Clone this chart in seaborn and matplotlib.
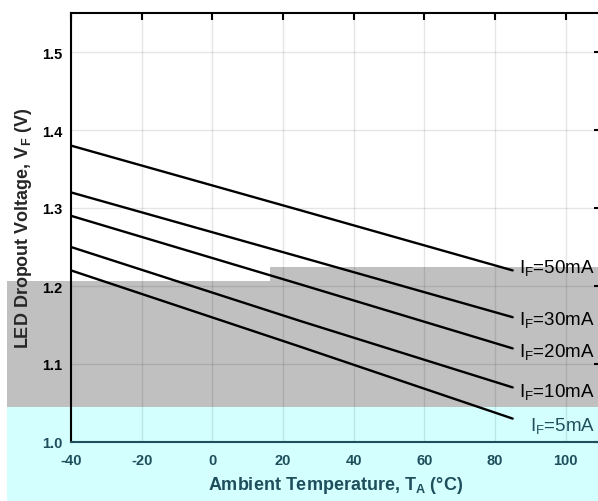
import numpy as np
import pandas as pd
import matplotlib
matplotlib.use("Agg")
import matplotlib.pyplot as plt
from matplotlib.patches import Rectangle
import seaborn as sns

# ── data ──
temps = [-40, 25, 85]
vf_50ma = [1.38, 1.297, 1.22]
vf_30ma = [1.32, 1.237, 1.16]
vf_20ma = [1.29, 1.202, 1.12]
vf_10ma = [1.25, 1.155, 1.07]
vf_5ma = [1.22, 1.122, 1.03]
currents = ["50mA", "30mA", "20mA", "10mA", "5mA"]
label_x = [86.8, 86.8, 86.8, 86.8, 89.8]
label_y = [1.217, 1.151, 1.109, 1.058, 1.014]
x_ticks = [-40, -20, 0, 20, 40, 60, 80, 100]
y_ticks = [1.0, 1.1, 1.2, 1.3, 1.4, 1.5]

series = dict(zip(currents, [vf_50ma, vf_30ma, vf_20ma, vf_10ma, vf_5ma]))
df = pd.DataFrame([(t, v, c) for c, vals in series.items() for t, v in zip(temps, vals)],
                  columns=["temp", "vf", "current"])

sns.set_style("white")
plt.rcParams["font.family"] = ["Liberation Sans", "DejaVu Sans"]
plt.rcParams["mathtext.fontset"] = "custom"
plt.rcParams["mathtext.rm"] = "Liberation Sans"
plt.rcParams["mathtext.bf"] = "Liberation Sans:bold"
plt.rcParams["axes.unicode_minus"] = False

TEAL = "#1e4f5c"
GRAY_BAND = "#c0c0c0"
CYAN_BAND = "#d4ffff"

fig = plt.figure(figsize=(5.98, 5.02), dpi=100, facecolor="white")
ax = fig.add_axes([71 / 598, 59 / 502, 530 / 598, 429 / 502])
ax.set_facecolor("none")

# scan artefacts in the reference: grey and cyan bands behind the plot
for x0, y0, w, h, c in [(7, 282, 263, 126, GRAY_BAND),
                        (270, 268, 328, 140, GRAY_BAND),
                        (7, 408, 591, 94, CYAN_BAND)]:
    fig.patches.append(Rectangle((x0 / 598, 1 - (y0 + h) / 502), w / 598, h / 502,
                                 transform=fig.transFigure, color=c, zorder=-5, lw=0))

sns.lineplot(data=df, x="temp", y="vf", hue="current", palette=["black"] * 5,
             legend=False, linewidth=1.7, ax=ax)

for c, lx, ly in zip(currents, label_x, label_y):
    ax.text(lx, ly, r"I$_\mathregular{F}$=" + c, fontsize=13.5, va="baseline",
            color=TEAL if c == "5mA" else "black")

ax.set_xlim(-40, 110)
ax.set_ylim(1.0, 1.55)
ax.set_xticks(x_ticks)
ax.set_yticks(y_ticks)
ax.set_yticklabels([f"{v:.1f}" for v in y_ticks])
ax.grid(True, color="black", alpha=0.1, linewidth=1)

ax.tick_params(direction="in", length=5, width=1.5, top=True, right=True,
               labelsize=10.5, pad=6, colors="black")
ax.tick_params(axis="x", pad=8, labelcolor=TEAL)
for lbl in ax.get_xticklabels() + ax.get_yticklabels():
    lbl.set_fontweight("bold")
ax.get_yticklabels()[0].set_color(TEAL)
for t in ax.xaxis.get_major_ticks():
    t.tick1line.set_color(TEAL)

for side, sp in ax.spines.items():
    sp.set_linewidth(1.5)
    sp.set_color(TEAL if side == "bottom" else "black")

ax.set_xlabel(r"Ambient Temperature, T$_\mathbf{A}$ (°C)", fontsize=13,
              fontweight="bold", color=TEAL, labelpad=5)
ax.set_ylabel(r"LED Dropout Voltage, V$_\mathbf{F}$ (V)", fontsize=13,
              fontweight="bold", labelpad=6)

fig.savefig("out.png", dpi=100)
